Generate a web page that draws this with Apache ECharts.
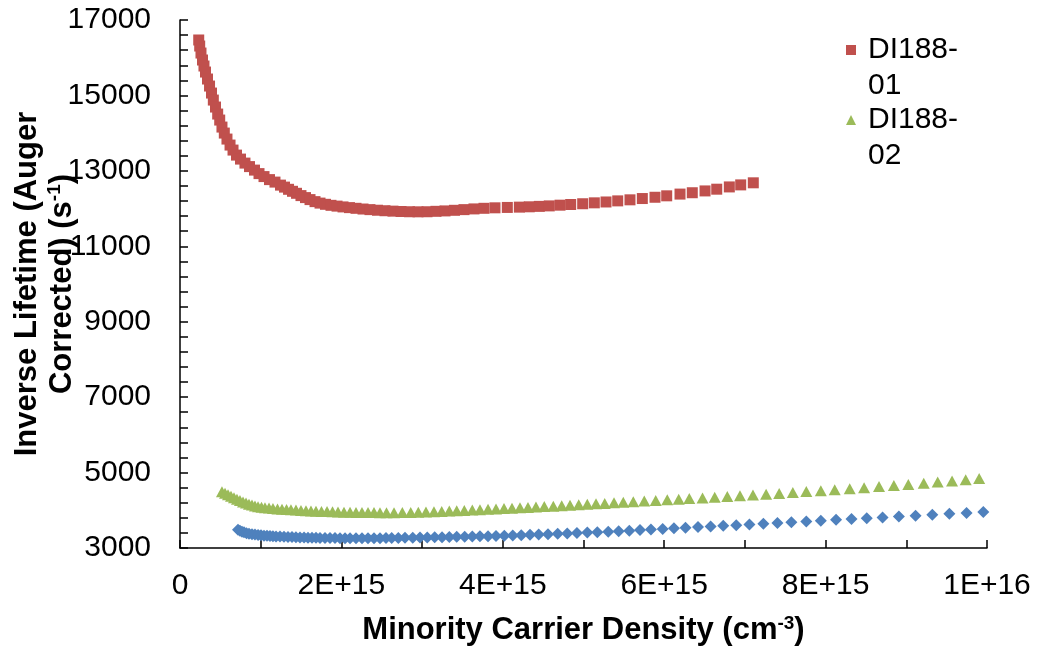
<!DOCTYPE html>
<html>
<head>
<meta charset="utf-8">
<title>Inverse Lifetime vs Minority Carrier Density</title>
<script src="https://cdn.jsdelivr.net/npm/echarts@6/dist/echarts.min.js"></script>
<style>
  html, body { margin: 0; padding: 0; background: #fff; }
  #chart { width: 1039px; height: 651px; }
</style>
</head>
<body>
<div id="chart"></div>
<script>
// densities are in units of 1E+15 cm^-3, inverse lifetime in s^-1
var red01X = [0.232, 0.244, 0.260, 0.279, 0.297, 0.316, 0.341, 0.366, 0.390, 0.413,
  0.440, 0.467, 0.492, 0.520, 0.549, 0.582, 0.620, 0.657, 0.700, 0.750,
  0.805, 0.861, 0.923, 0.979, 1.041, 1.109, 1.177, 1.245, 1.295, 1.345,
  1.394, 1.444, 1.499, 1.555, 1.611, 1.673, 1.735, 1.803, 1.871, 1.946,
  2.020, 2.100, 2.181, 2.268, 2.354, 2.447, 2.540, 2.639, 2.739, 2.844,
  2.949, 3.061, 3.172, 3.284, 3.401, 3.519, 3.643, 3.767, 3.903, 4.056,
  4.205, 4.328, 4.452, 4.576, 4.709, 4.841, 4.990, 5.134, 5.279, 5.424,
  5.576, 5.729, 5.886, 6.031, 6.196, 6.348, 6.506, 6.651, 6.807, 6.948, 7.104];
var red01Y = [16470, 16310, 16124, 15939, 15780, 15620, 15435, 15249, 15063, 14877,
  14692, 14506, 14347, 14161, 14002, 13843, 13684, 13551, 13418, 13312,
  13206, 13113, 13020, 12927, 12848, 12768, 12702, 12622, 12569, 12511,
  12458, 12405, 12344, 12291, 12238, 12184, 12145, 12113, 12086, 12065,
  12044, 12025, 12007, 11988, 11972, 11956, 11943, 11932, 11922, 11916,
  11914, 11916, 11927, 11938, 11954, 11972, 11991, 12007, 12020, 12030,
  12038, 12047, 12058, 12071, 12090, 12108, 12128, 12152, 12175, 12204,
  12232, 12266, 12300, 12338, 12384, 12420, 12468, 12514, 12574, 12628, 12683];

var green02X = [0.520, 0.558, 0.595, 0.632, 0.669, 0.706, 0.743, 0.781, 0.818, 0.855,
  0.892, 0.929, 0.967, 1.010, 1.053, 1.103, 1.152, 1.208, 1.264, 1.320,
  1.375, 1.437, 1.499, 1.561, 1.623, 1.685, 1.753, 1.822, 1.890, 1.958,
  2.032, 2.107, 2.181, 2.255, 2.330, 2.404, 2.478, 2.559, 2.652, 2.755,
  2.859, 2.953, 3.048, 3.147, 3.243, 3.337, 3.429, 3.523, 3.622, 3.717,
  3.817, 3.916, 4.015, 4.114, 4.213, 4.312, 4.411, 4.514, 4.626, 4.730,
  4.833, 4.941, 5.047, 5.155, 5.263, 5.378, 5.493, 5.617, 5.753, 5.895,
  6.038, 6.180, 6.311, 6.475, 6.626, 6.782, 6.939, 7.100, 7.263, 7.425,
  7.594, 7.761, 7.941, 8.113, 8.299, 8.477, 8.662, 8.846, 9.025, 9.216,
  9.389, 9.567, 9.736, 9.903];
var green02Y = [4490, 4450, 4410, 4371, 4331, 4291, 4257, 4222, 4190, 4161,
  4137, 4116, 4097, 4082, 4068, 4058, 4047, 4036, 4028, 4021,
  4013, 4005, 3997, 3989, 3983, 3975, 3970, 3965, 3960, 3954,
  3949, 3946, 3944, 3941, 3938, 3938, 3936, 3936, 3936, 3938,
  3942, 3947, 3954, 3962, 3970, 3979, 3988, 3997, 4006, 4015,
  4025, 4035, 4045, 4055, 4066, 4076, 4087, 4098, 4110, 4122,
  4134, 4146, 4158, 4170, 4183, 4197, 4211, 4226, 4243, 4260,
  4277, 4294, 4310, 4328, 4347, 4365, 4384, 4405, 4426, 4448,
  4472, 4495, 4519, 4546, 4572, 4599, 4628, 4657, 4686, 4718,
  4750, 4779, 4808, 4840];

var blue03X = [0.719, 0.743, 0.768, 0.793, 0.824, 0.855, 0.892, 0.929, 0.967, 1.004,
  1.041, 1.078, 1.115, 1.152, 1.190, 1.239, 1.289, 1.338, 1.388, 1.437,
  1.487, 1.537, 1.586, 1.636, 1.685, 1.735, 1.797, 1.859, 1.921, 1.983,
  2.045, 2.107, 2.181, 2.255, 2.330, 2.404, 2.478, 2.553, 2.623, 2.705,
  2.788, 2.884, 2.974, 3.064, 3.156, 3.247, 3.337, 3.429, 3.528, 3.622,
  3.717, 3.817, 3.916, 4.019, 4.123, 4.229, 4.337, 4.445, 4.560, 4.680,
  4.799, 4.919, 5.047, 5.171, 5.307, 5.436, 5.568, 5.700, 5.836, 5.981,
  6.121, 6.264, 6.419, 6.575, 6.732, 6.893, 7.056, 7.229, 7.403, 7.576,
  7.761, 7.941, 8.130, 8.321, 8.510, 8.706, 8.908, 9.115, 9.322, 9.534,
  9.747, 9.954];
var blue03Y = [3482, 3455, 3434, 3416, 3394, 3378, 3365, 3355, 3344, 3336,
  3328, 3322, 3317, 3312, 3308, 3303, 3298, 3293, 3289, 3285,
  3281, 3278, 3275, 3272, 3270, 3268, 3266, 3264, 3262, 3261,
  3260, 3259, 3258, 3258, 3258, 3259, 3260, 3262, 3264, 3267,
  3270, 3273, 3276, 3279, 3283, 3287, 3291, 3295, 3300, 3304,
  3309, 3314, 3319, 3326, 3333, 3341, 3349, 3357, 3366, 3376,
  3386, 3397, 3408, 3420, 3433, 3446, 3460, 3474, 3489, 3505,
  3521, 3537, 3554, 3571, 3588, 3606, 3624, 3643, 3663, 3683,
  3704, 3725, 3746, 3768, 3790, 3812, 3835, 3858, 3882, 3906,
  3930, 3953];

var seriesNames = ['DI188-01', 'DI188-02', 'DI188-03'];
var legendNames = ['DI188-01', 'DI188-02'];
var xTickMin = 0, xTickMax = 1e16, xTickStep = 2e15;
var yTickMin = 3000, yTickMax = 17000, yTickStep = 2000;

var FONT = "'Liberation Sans', Arial, Helvetica, sans-serif";

function pairs(xs, ys) {
  return xs.map(function (x, i) { return [x * 1e15, ys[i]]; });
}

// 2000000000000000 -> 2E+15, like the spreadsheet
function sciLabel(v) {
  if (v === 0) return '0';
  return v.toExponential().replace('e', 'E');
}

var chart = echarts.init(document.getElementById('chart'));

var option = {
  animation: false,
  backgroundColor: '#ffffff',
  textStyle: { fontFamily: FONT },
  grid: { left: 180, top: 20, right: 52, bottom: 103, containLabel: false, outerBoundsMode: 'none' },
  legend: {
    orient: 'vertical',
    left: 846,
    top: -4,
    padding: 0,
    itemWidth: 10,
    itemHeight: 10,
    itemGap: -38,
    selectedMode: false,
    data: [
      { name: legendNames[0], icon: 'rect' },
      { name: legendNames[1], icon: 'triangle' }
    ],
    formatter: function (name) {
      return '\n' + name.replace('-', '-\n');
    },
    textStyle: { fontFamily: FONT, fontSize: 30, lineHeight: 36, color: '#000', padding: [0, 0, 0, 7] }
  },
  xAxis: {
    type: 'value',
    min: xTickMin,
    max: xTickMax,
    interval: xTickStep,
    name: '{b|Minority Carrier Density (cm}{s|-3}{b|)}',
    nameLocation: 'middle',
    nameGap: 66,
    nameMoveOverlap: false,
    nameTextStyle: {
      rich: {
        b: { fontFamily: FONT, fontSize: 31, fontWeight: 'bold', color: '#000', lineHeight: 32 },
        s: { fontFamily: FONT, fontSize: 19, fontWeight: 'bold', color: '#000', verticalAlign: 'top', lineHeight: 32 }
      }
    },
    splitLine: { show: false },
    axisLine: { lineStyle: { color: '#000', width: 1.5 } },
    axisTick: { inside: true, length: 8, lineStyle: { color: '#000', width: 1.5 } },
    minorTick: { show: true, splitNumber: 2, length: 8, lineStyle: { color: '#000', width: 1.5 } },
    axisLabel: {
      margin: 23,
      fontFamily: FONT,
      fontSize: 30,
      color: '#000',
      formatter: sciLabel
    }
  },
  yAxis: {
    type: 'value',
    min: yTickMin,
    max: yTickMax,
    interval: yTickStep,
    name: '{b|Inverse Lifetime (Auger}\n{b|Corrected) (s}{s|-1}{b|)}',
    nameLocation: 'middle',
    nameRotate: 90,
    nameGap: 100,
    nameMoveOverlap: false,
    nameTextStyle: {
      rich: {
        b: { fontFamily: FONT, fontSize: 31, fontWeight: 'bold', color: '#000', lineHeight: 35 },
        s: { fontFamily: FONT, fontSize: 19, fontWeight: 'bold', color: '#000', verticalAlign: 'top', lineHeight: 35 }
      }
    },
    splitLine: { show: false },
    axisLine: { show: true, lineStyle: { color: '#000', width: 1.5 } },
    axisTick: { show: true, inside: true, length: 8, lineStyle: { color: '#000', width: 1.5 } },
    minorTick: { show: true, splitNumber: 5, length: 8, lineStyle: { color: '#000', width: 1.5 } },
    axisLabel: {
      margin: 29,
      fontFamily: FONT,
      fontSize: 30,
      color: '#000',
      formatter: function (v) { return String(v); }
    }
  },
  series: [
    {
      name: seriesNames[0],
      type: 'scatter',
      symbol: 'rect',
      symbolSize: 11,
      itemStyle: { color: '#C0504D', opacity: 1 },
      data: pairs(red01X, red01Y)
    },
    {
      name: seriesNames[1],
      type: 'scatter',
      symbol: 'triangle',
      symbolSize: [12, 11],
      itemStyle: { color: '#9BBB59', opacity: 1 },
      data: pairs(green02X, green02Y)
    },
    {
      name: seriesNames[2],
      type: 'scatter',
      symbol: 'diamond',
      symbolSize: [12, 12],
      itemStyle: { color: '#4F81BD', opacity: 1 },
      data: pairs(blue03X, blue03Y)
    }
  ]
};

chart.setOption(option);
window.addEventListener('resize', function () { chart.resize(); });
</script>
</body>
</html>
